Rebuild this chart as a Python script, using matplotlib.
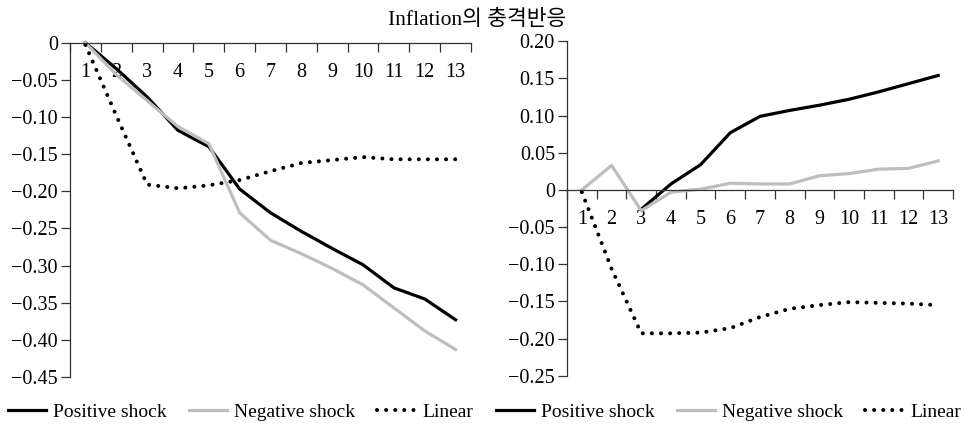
import numpy as np
import matplotlib
matplotlib.use('Agg')
import matplotlib.pyplot as plt

plt.rcParams['font.family'] = ['Liberation Serif', 'Noto Sans CJK KR']
plt.rcParams['font.size'] = 14

periods = np.arange(1, 14)
period_labels = [str(p) for p in periods]

# left panel
left_positive = [0, -0.035, -0.073, -0.118, -0.140, -0.197, -0.229, -0.254, -0.277, -0.299, -0.330, -0.345, -0.373]
left_negative = [0, -0.043, -0.078, -0.113, -0.136, -0.229, -0.266, -0.284, -0.304, -0.326, -0.357, -0.388, -0.413]
left_linear = [-0.003, -0.098, -0.191, -0.196, -0.192, -0.185, -0.173, -0.162, -0.158, -0.154, -0.157, -0.157, -0.157]
left_yticks = [0, -0.05, -0.10, -0.15, -0.20, -0.25, -0.30, -0.35, -0.40, -0.45]
left_yticklabels = ['0', '\u22120.05', '\u22120.10', '\u22120.15', '\u22120.20', '\u22120.25',
                    '\u22120.30', '\u22120.35', '\u22120.40', '\u22120.45']

# right panel
right_positive = [np.nan, np.nan, -0.026, 0.008, 0.034, 0.077, 0.099, 0.107, 0.114, 0.122, 0.132, 0.143, 0.154]
right_negative = [0, 0.033, -0.028, -0.003, 0.001, 0.009, 0.008, 0.008, 0.019, 0.022, 0.028, 0.029, 0.039]
right_linear = [-0.003, -0.106, -0.193, -0.193, -0.192, -0.186, -0.171, -0.160, -0.155, -0.151, -0.152, -0.153, -0.155]
right_yticks = [0.20, 0.15, 0.10, 0.05, 0, -0.05, -0.10, -0.15, -0.20, -0.25]
right_yticklabels = ['0.20', '0.15', '0.10', '0.05', '0', '\u22120.05', '\u22120.10',
                     '\u22120.15', '\u22120.20', '\u22120.25']

series_names = ['Positive shock', 'Negative shock', 'Linear']
title = 'Inflation의 충격반응'

fig = plt.figure(figsize=(9.64, 4.28), dpi=100)


def panel(rect, pos, neg, lin, yticks, yticklabels, ylim, legend_x):
    ax = fig.add_axes(rect)
    ax.plot(periods, pos, color='black', lw=2.3, clip_on=False, label=series_names[0])
    ax.plot(periods, neg, color='#bebebe', lw=2.3, clip_on=False, label=series_names[1])
    ax.plot(periods, lin, color='black', lw=2.9, linestyle=(0, (0.01, 2.25)),
            dash_capstyle='round', clip_on=False, label=series_names[2])
    ax.set_xlim(0.5, 13.5)
    ax.set_ylim(*ylim)
    ax.spines['top'].set_visible(False)
    ax.spines['right'].set_visible(False)
    ax.spines['bottom'].set_position(('data', 0))
    for s in ['left', 'bottom']:
        ax.spines[s].set_color('#333333')
        ax.spines[s].set_linewidth(0.9)
    ax.set_yticks(yticks)
    ax.set_yticklabels(yticklabels)
    ax.set_xticks(periods)
    ax.set_xticklabels(period_labels)
    ax.set_xticks(np.arange(0.5, 14, 1), minor=True)
    ax.tick_params(axis='y', direction='out', length=6.5, width=0.9, color='#333333', pad=2.2, labelsize=14.5)
    ax.tick_params(axis='x', which='major', length=0, pad=14.5, labelsize=14.5)
    ax.tick_params(axis='x', which='minor', direction='out', length=6.5, width=0.9, color='#333333')
    ax.legend(loc='center', bbox_to_anchor=(legend_x, 0.037), bbox_transform=fig.transFigure,
              ncol=3, frameon=False, fontsize=14, handlelength=1.96, handletextpad=0.36,
              columnspacing=1.13, borderpad=0, borderaxespad=0)
    return ax


panel([0.0726, 0.1192, 0.416, 0.7811], left_positive, left_negative, left_linear,
      left_yticks, left_yticklabels, (-0.45, 0), 0.2495)
panel([0.5882, 0.1222, 0.4004, 0.7813], right_positive, right_negative, right_linear,
      right_yticks, right_yticklabels, (-0.25, 0.20), 0.756)

fig.text(0.4945, 0.9416, title, ha='center', va='baseline', fontsize=15.5)

fig.savefig('out.png', dpi=100)
